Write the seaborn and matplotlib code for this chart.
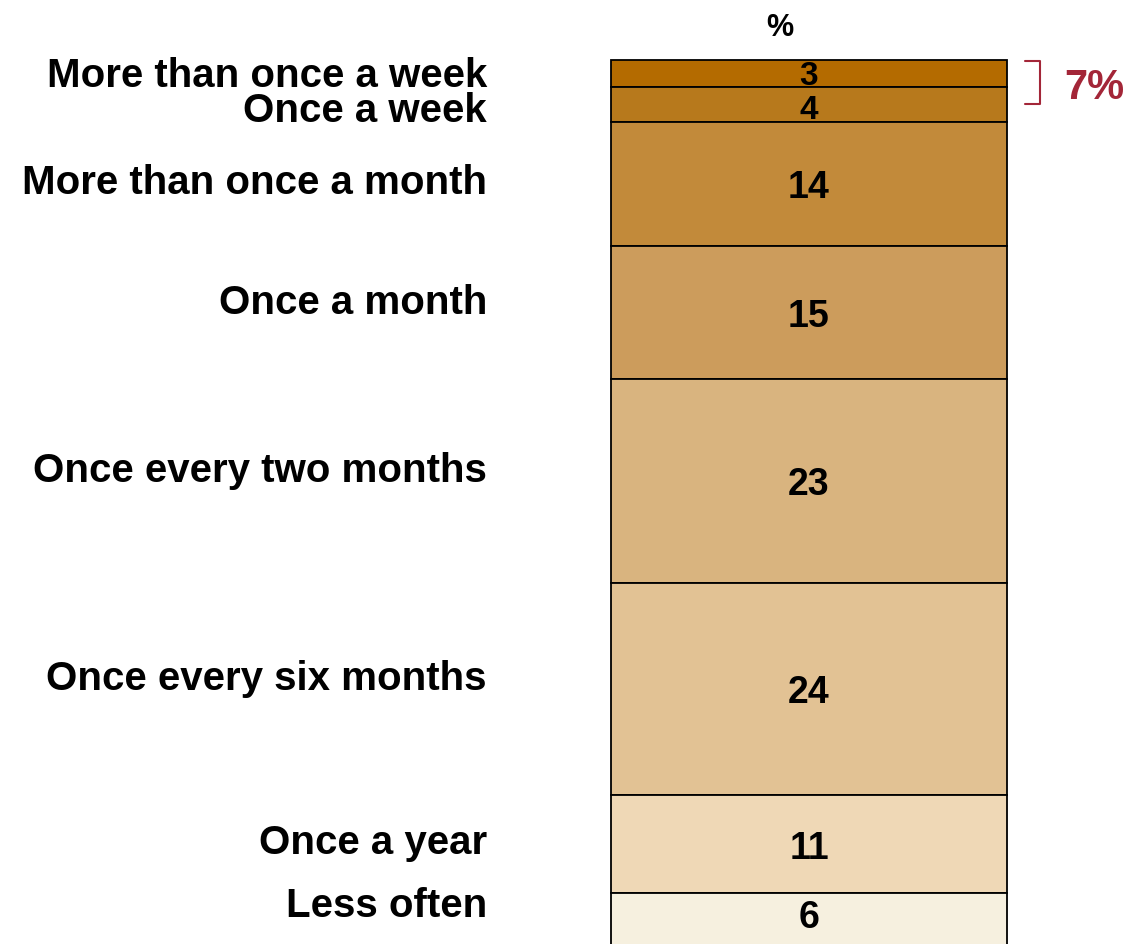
import matplotlib
matplotlib.use("Agg")
import matplotlib.pyplot as plt
from matplotlib import font_manager
import numpy as np
import pandas as pd
import seaborn as sns

# frequency categories, top of the bar first
categories = ["More than once a week", "Once a week", "More than once a month",
              "Once a month", "Once every two months", "Once every six months",
              "Once a year", "Less often"]
values = [3, 4, 14, 15, 23, 24, 11, 6]
colors = ["#B46B00", "#B7791C", "#C28A3A", "#CC9C5C",
          "#D9B47F", "#E2C294", "#EFD8B6", "#F6F0DF"]
# small vertical nudges for the left labels (pixels, + = down)
label_nudge = [2, 6, -2, -11, -11, -11, -2, -14]
number_nudge = [2, 5, 3, 3, 3, 3, 4, -2]
number_size = [24, 24, 27, 27, 27, 27, 27, 27]

sns.set_theme(style="white")
names = {f.name for f in font_manager.fontManager.ttflist}
narrow = "Liberation Sans Narrow" if "Liberation Sans Narrow" in names else "Liberation Sans"
plt.rcParams["font.family"] = ["Liberation Sans", "DejaVu Sans"]

df = pd.DataFrame({"cat": categories, "pct": values, "color": colors})
df["start"] = df["pct"].cumsum() - df["pct"]
df["mid"] = df["start"] + df["pct"] / 2

W, H, DPI = 1126, 945, 100
fig = plt.figure(figsize=(W / DPI, H / DPI), dpi=DPI)
bar_left, bar_w = 611 / W, 396 / W
ax = fig.add_axes([bar_left, 0, bar_w, 1])

for i, row in df.iterrows():
    sns.barplot(x=["%"], y=[row["pct"]], bottom=row["start"], color=row["color"],
                saturation=1, width=1, edgecolor="black", linewidth=1.3,
                ax=ax, clip_on=False)

# y scale: 0 at pixel 61 from top, 8.86 px per percentage point
px = 8.86
ax.set_ylim((H - 61) / px, -61 / px)
ax.set_xlim(-0.5, 0.5)
ax.axis("off")

for i, row in df.iterrows():
    ax.annotate(row["cat"], xy=(0, row["mid"]), xycoords=ax.get_yaxis_transform(),
                xytext=(-124, -label_nudge[i]), textcoords="offset pixels",
                ha="right", va="center", fontsize=29, fontweight="bold", color="black")
    ax.annotate(str(row["pct"]), xy=(0.5, row["mid"]), xycoords=ax.get_yaxis_transform(),
                xytext=(0, -number_nudge[i]), textcoords="offset pixels",
                ha="center", va="center", fontsize=number_size[i], fontweight="bold",
                family=[narrow, "DejaVu Sans"], color="black")

ax.annotate("%", xy=(0.427, 0), xycoords=ax.get_yaxis_transform(),
            xytext=(0, 33), textcoords="offset pixels",
            ha="center", va="center", fontsize=22, fontweight="bold", color="black")

# bracket around the top two answers
red = "#A32638"
top2 = values[0] + values[1]
b_top, b_bot = 0.1, values[0] + values[1] / 2
trans = ax.get_yaxis_transform()
x0, x1 = 1 + 18 / 396, 1 + 33 / 396
ax.plot([x0, x1, x1, x0], [b_top, b_top, b_bot, b_bot], color=red, lw=1.5,
        transform=trans, clip_on=False)
ax.annotate(f"{top2}%", xy=(1, (b_top + b_bot) / 2), xycoords=trans,
            xytext=(57, -4), textcoords="offset pixels", ha="left", va="center",
            fontsize=30, fontweight="bold", color=red)

fig.savefig("out.png", dpi=DPI)
